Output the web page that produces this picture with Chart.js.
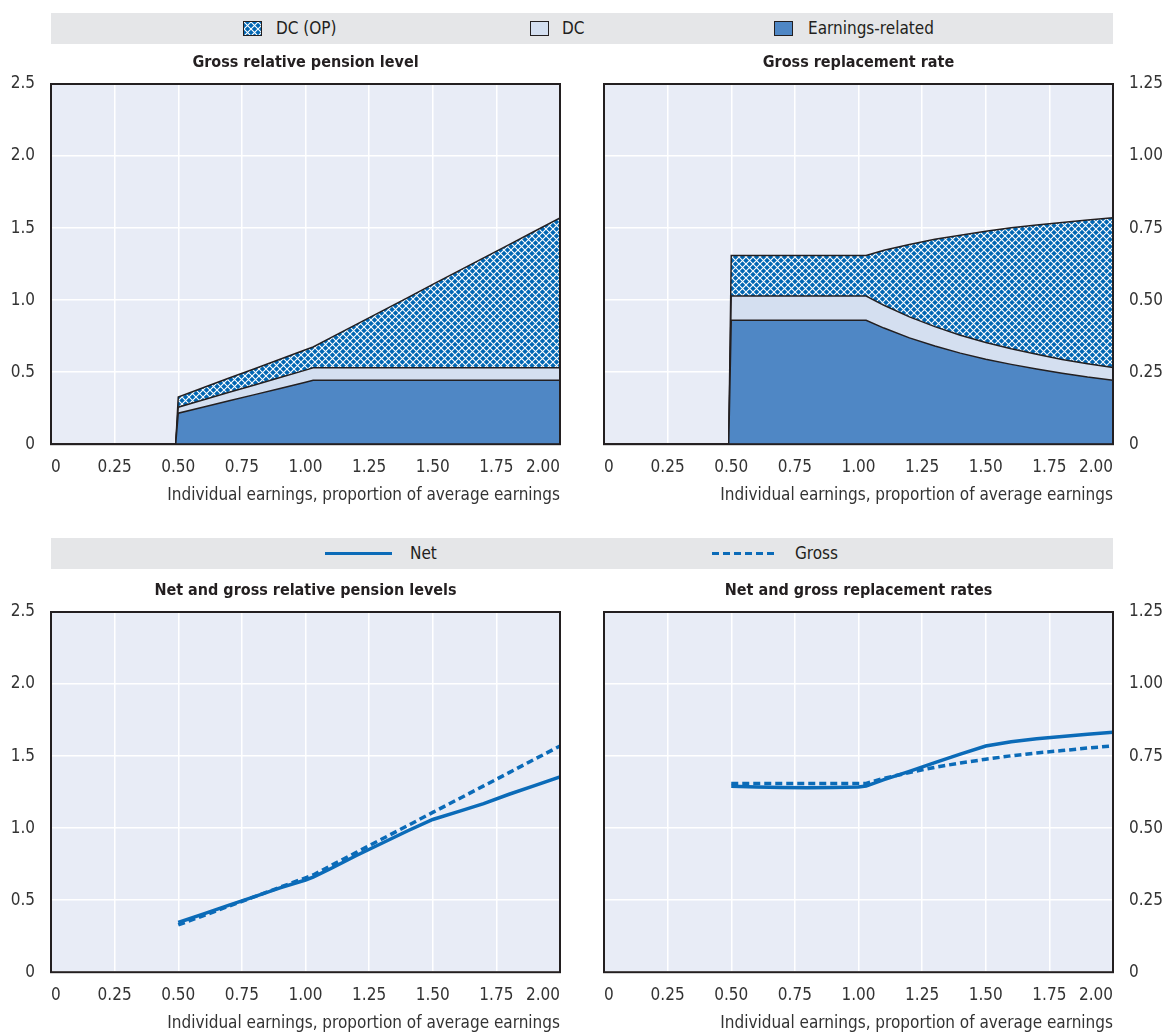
<!DOCTYPE html>
<html>
<head>
<meta charset="utf-8">
<script src="https://cdn.jsdelivr.net/npm/chart.js"></script>
<style>
  body { margin: 0; background: #fff; width: 1164px; height: 1034px; position: relative; overflow: hidden;
         font-family: "Liberation Sans Narrow", "DejaVu Sans Condensed", "Roboto", sans-serif; color: #231f20; }
  .box { position: absolute; }
  .band { position: absolute; left: 51px; width: 1062px; height: 31px; background: #e5e6e8; }
  .item { position: absolute; top: 0; height: 31px; line-height: 31px; font-size: 17px; color: #231f20; }
  .sw { position: absolute; top: 8px; width: 17px; height: 13px; border: 1px solid #231f20; }
</style>
</head>
<body>

<div class="band" style="top:13px">
  <canvas id="swOP" class="sw" width="17" height="13" style="left:192px;"></canvas>
  <div class="item" style="left:225px">DC (OP)</div>
  <div class="sw" style="left:479px;background:#d4dff0"></div>
  <div class="item" style="left:511px">DC</div>
  <div class="sw" style="left:723px;background:#4f87c5"></div>
  <div class="item" style="left:757px">Earnings-related</div>
</div>

<div class="band" style="top:538px">
  <div style="position:absolute;left:274px;top:14px;width:67px;height:3px;background:#0b6bb8"></div>
  <div class="item" style="left:359px">Net</div>
  <div style="position:absolute;left:661px;top:14px;width:65px;height:3px;background:repeating-linear-gradient(90deg,#0b6bb8 0 7px,transparent 7px 11px)"></div>
  <div class="item" style="left:744px">Gross</div>
</div>

<div class="box" style="left:0;top:47px;width:575px;height:462px"><canvas id="chart1"></canvas></div>
<div class="box" style="left:585px;top:47px;width:579px;height:462px"><canvas id="chart2"></canvas></div>
<div class="box" style="left:0;top:575px;width:575px;height:462px"><canvas id="chart3"></canvas></div>
<div class="box" style="left:585px;top:575px;width:579px;height:462px"><canvas id="chart4"></canvas></div>

<script>
// x: individual earnings, proportion of average earnings
const earnings = [0, 0.49, 0.5, 0.6, 0.7, 0.8, 0.9, 1.0, 1.03, 1.1, 1.2, 1.3, 1.4, 1.5, 1.6, 1.7, 1.8, 1.9, 2.0];

// gross relative pension level (stacked)
const erLevel = [0, 0, 0.215, 0.258, 0.301, 0.344, 0.387, 0.43, 0.443, 0.443, 0.443, 0.443, 0.443, 0.443, 0.443, 0.443, 0.443, 0.443, 0.443];
const dcLevel = [0, 0, 0.042, 0.05, 0.059, 0.067, 0.076, 0.084, 0.087, 0.087, 0.087, 0.087, 0.087, 0.087, 0.087, 0.087, 0.087, 0.087, 0.087];
const opLevel = [0, 0, 0.071, 0.085, 0.099, 0.113, 0.127, 0.141, 0.145, 0.21, 0.302, 0.394, 0.486, 0.579, 0.671, 0.763, 0.855, 0.948, 1.04];

// gross replacement rate (stacked)
const erRate = [0, 0, 0.43, 0.43, 0.43, 0.43, 0.43, 0.43, 0.43, 0.403, 0.369, 0.341, 0.316, 0.295, 0.277, 0.261, 0.246, 0.233, 0.222];
const dcRate = [0, 0, 0.084, 0.084, 0.084, 0.084, 0.084, 0.084, 0.084, 0.079, 0.073, 0.067, 0.062, 0.058, 0.054, 0.051, 0.048, 0.046, 0.044];
const opRate = [0, 0, 0.141, 0.141, 0.141, 0.141, 0.141, 0.141, 0.141, 0.191, 0.251, 0.303, 0.347, 0.386, 0.42, 0.449, 0.475, 0.499, 0.52];

// net and gross
const netLevel = [null, null, 0.345, 0.405, 0.465, 0.525, 0.585, 0.64, 0.66, 0.72, 0.81, 0.895, 0.98, 1.06, 1.115, 1.17, 1.235, 1.295, 1.355];
const grossLevel = [null, null, 0.328, 0.393, 0.459, 0.524, 0.59, 0.655, 0.675, 0.74, 0.832, 0.924, 1.016, 1.109, 1.201, 1.293, 1.385, 1.478, 1.57];
const netRate = [null, null, 0.645, 0.643, 0.641, 0.64, 0.641, 0.643, 0.646, 0.668, 0.697, 0.727, 0.757, 0.785, 0.8, 0.81, 0.818, 0.826, 0.833];
const grossRate = [null, null, 0.655, 0.655, 0.655, 0.655, 0.655, 0.655, 0.655, 0.673, 0.693, 0.711, 0.726, 0.739, 0.751, 0.761, 0.769, 0.778, 0.785];

// tick labels
const xTickLabels = ['0', '0.25', '0.50', '0.75', '1.00', '1.25', '1.50', '1.75', '2.00'];
const levelTickLabels = ['0', '0.5', '1.0', '1.5', '2.0', '2.5'];
const rateTickLabels = ['0', '0.25', '0.50', '0.75', '1.00', '1.25'];

const FONT = '"Liberation Sans Narrow", "DejaVu Sans Condensed", "Roboto", sans-serif';
Chart.defaults.font.family = FONT;
Chart.defaults.color = '#231f20';

const blue = '#0b6bb8';
const ink = '#231f20';

function hatch() {
    const n = 7;
    const c = document.createElement('canvas');
    c.width = n; c.height = n;
    const g = c.getContext('2d');
    g.fillStyle = '#0066b3';
    g.fillRect(0, 0, n, n);
    g.strokeStyle = '#ffffff';
    g.lineWidth = 1.1;
    g.beginPath();
    g.moveTo(-1, -1); g.lineTo(n + 1, n + 1);
    g.moveTo(n + 1, -1); g.lineTo(-1, n + 1);
    g.stroke();
    return g.createPattern(c, 'repeat');
}
const opPattern = hatch();

// hatched legend swatch
(function () {
    const g = document.getElementById('swOP').getContext('2d');
    g.fillStyle = opPattern;
    g.fillRect(0, 0, 17, 13);
})();

function pts(ys) {
    return earnings.map((x, i) => ({ x: x, y: ys[i] }));
}

const plotFrame = {
    id: 'plotFrame',
    beforeDraw(chart) {
        const { ctx, chartArea: a } = chart;
        ctx.save();
        ctx.fillStyle = '#e8ecf6';
        ctx.fillRect(a.left, a.top, a.width, a.height);
        ctx.restore();
    },
    afterDatasetsDraw(chart) {
        const { ctx, chartArea: a } = chart;
        ctx.save();
        ctx.strokeStyle = ink;
        ctx.lineWidth = 2;
        ctx.strokeRect(a.left, a.top, a.width, a.height);
        ctx.restore();
    }
};

function options(title, yMax, yLabels, yPos, stacked) {
    return {
        responsive: true,
        maintainAspectRatio: false,
        animation: false,
        layout: { padding: { left: yPos === 'right' ? 19 : 0, right: yPos === 'right' ? 0 : 15, top: 0, bottom: 2.8 } },
        plugins: {
            legend: { display: false },
            tooltip: { enabled: false },
            title: {
                display: true,
                text: title,
                fullSize: false,
                color: ink,
                font: { size: 16, weight: 'bold' },
                padding: { top: 6.4, bottom: 11.4 }
            }
        },
        scales: {
            x: {
                type: 'linear',
                min: 0,
                max: 2,
                afterFit: (s) => { s.height = 62; },
                grid: { color: '#ffffff', lineWidth: 1.5, drawTicks: false },
                border: { display: false },
                ticks: {
                    stepSize: 0.25,
                    padding: 13,
                    align: 'inner',
                    maxRotation: 0,
                    color: '#333333',
                    font: { size: 17 },
                    callback: (v, i) => xTickLabels[i]
                },
                title: {
                    display: true,
                    text: 'Individual earnings, proportion of average earnings',
                    align: 'end',
                    color: '#333333',
                    font: { size: 17 },
                    padding: { top: 6, bottom: 0 }
                }
            },
            y: {
                position: yPos,
                min: 0,
                max: yMax,
                stacked: stacked,
                afterFit: (s) => { s.width = 51; },
                grid: { color: '#ffffff', lineWidth: 1.5, drawTicks: false },
                border: { display: false },
                ticks: {
                    stepSize: yMax / 5,
                    padding: yPos === 'right' ? 16 : 16,
                    color: '#333333',
                    font: { size: 17 },
                    callback: (v, i) => yLabels[i]
                }
            }
        }
    };
}

function stackSets(er, dc, op) {
    const base = { pointRadius: 0, borderColor: ink, borderWidth: 1.5, tension: 0 };
    return [
        Object.assign({ label: 'Earnings-related', data: pts(er), backgroundColor: '#4f87c5', fill: 'origin' }, base),
        Object.assign({ label: 'DC', data: pts(dc), backgroundColor: '#d4dff0', fill: '-1' }, base),
        Object.assign({ label: 'DC (OP)', data: pts(op), backgroundColor: opPattern, fill: '-1' }, base)
    ];
}

function lineSets(net, gross) {
    return [
        { label: 'Gross', data: pts(gross), borderColor: blue, borderWidth: 3.5, borderDash: [7, 4], pointRadius: 0, fill: false, spanGaps: false },
        { label: 'Net', data: pts(net), borderColor: blue, borderWidth: 3.5, pointRadius: 0, fill: false, spanGaps: false }
    ];
}

new Chart('chart1', {
    type: 'line',
    data: { datasets: stackSets(erLevel, dcLevel, opLevel) },
    options: options('Gross relative pension level', 2.5, levelTickLabels, 'left', true),
    plugins: [plotFrame]
});

new Chart('chart2', {
    type: 'line',
    data: { datasets: stackSets(erRate, dcRate, opRate) },
    options: options('Gross replacement rate', 1.25, rateTickLabels, 'right', true),
    plugins: [plotFrame]
});

new Chart('chart3', {
    type: 'line',
    data: { datasets: lineSets(netLevel, grossLevel) },
    options: options('Net and gross relative pension levels', 2.5, levelTickLabels, 'left', false),
    plugins: [plotFrame]
});

new Chart('chart4', {
    type: 'line',
    data: { datasets: lineSets(netRate, grossRate) },
    options: options('Net and gross replacement rates', 1.25, rateTickLabels, 'right', false),
    plugins: [plotFrame]
});
</script>
</body>
</html>
